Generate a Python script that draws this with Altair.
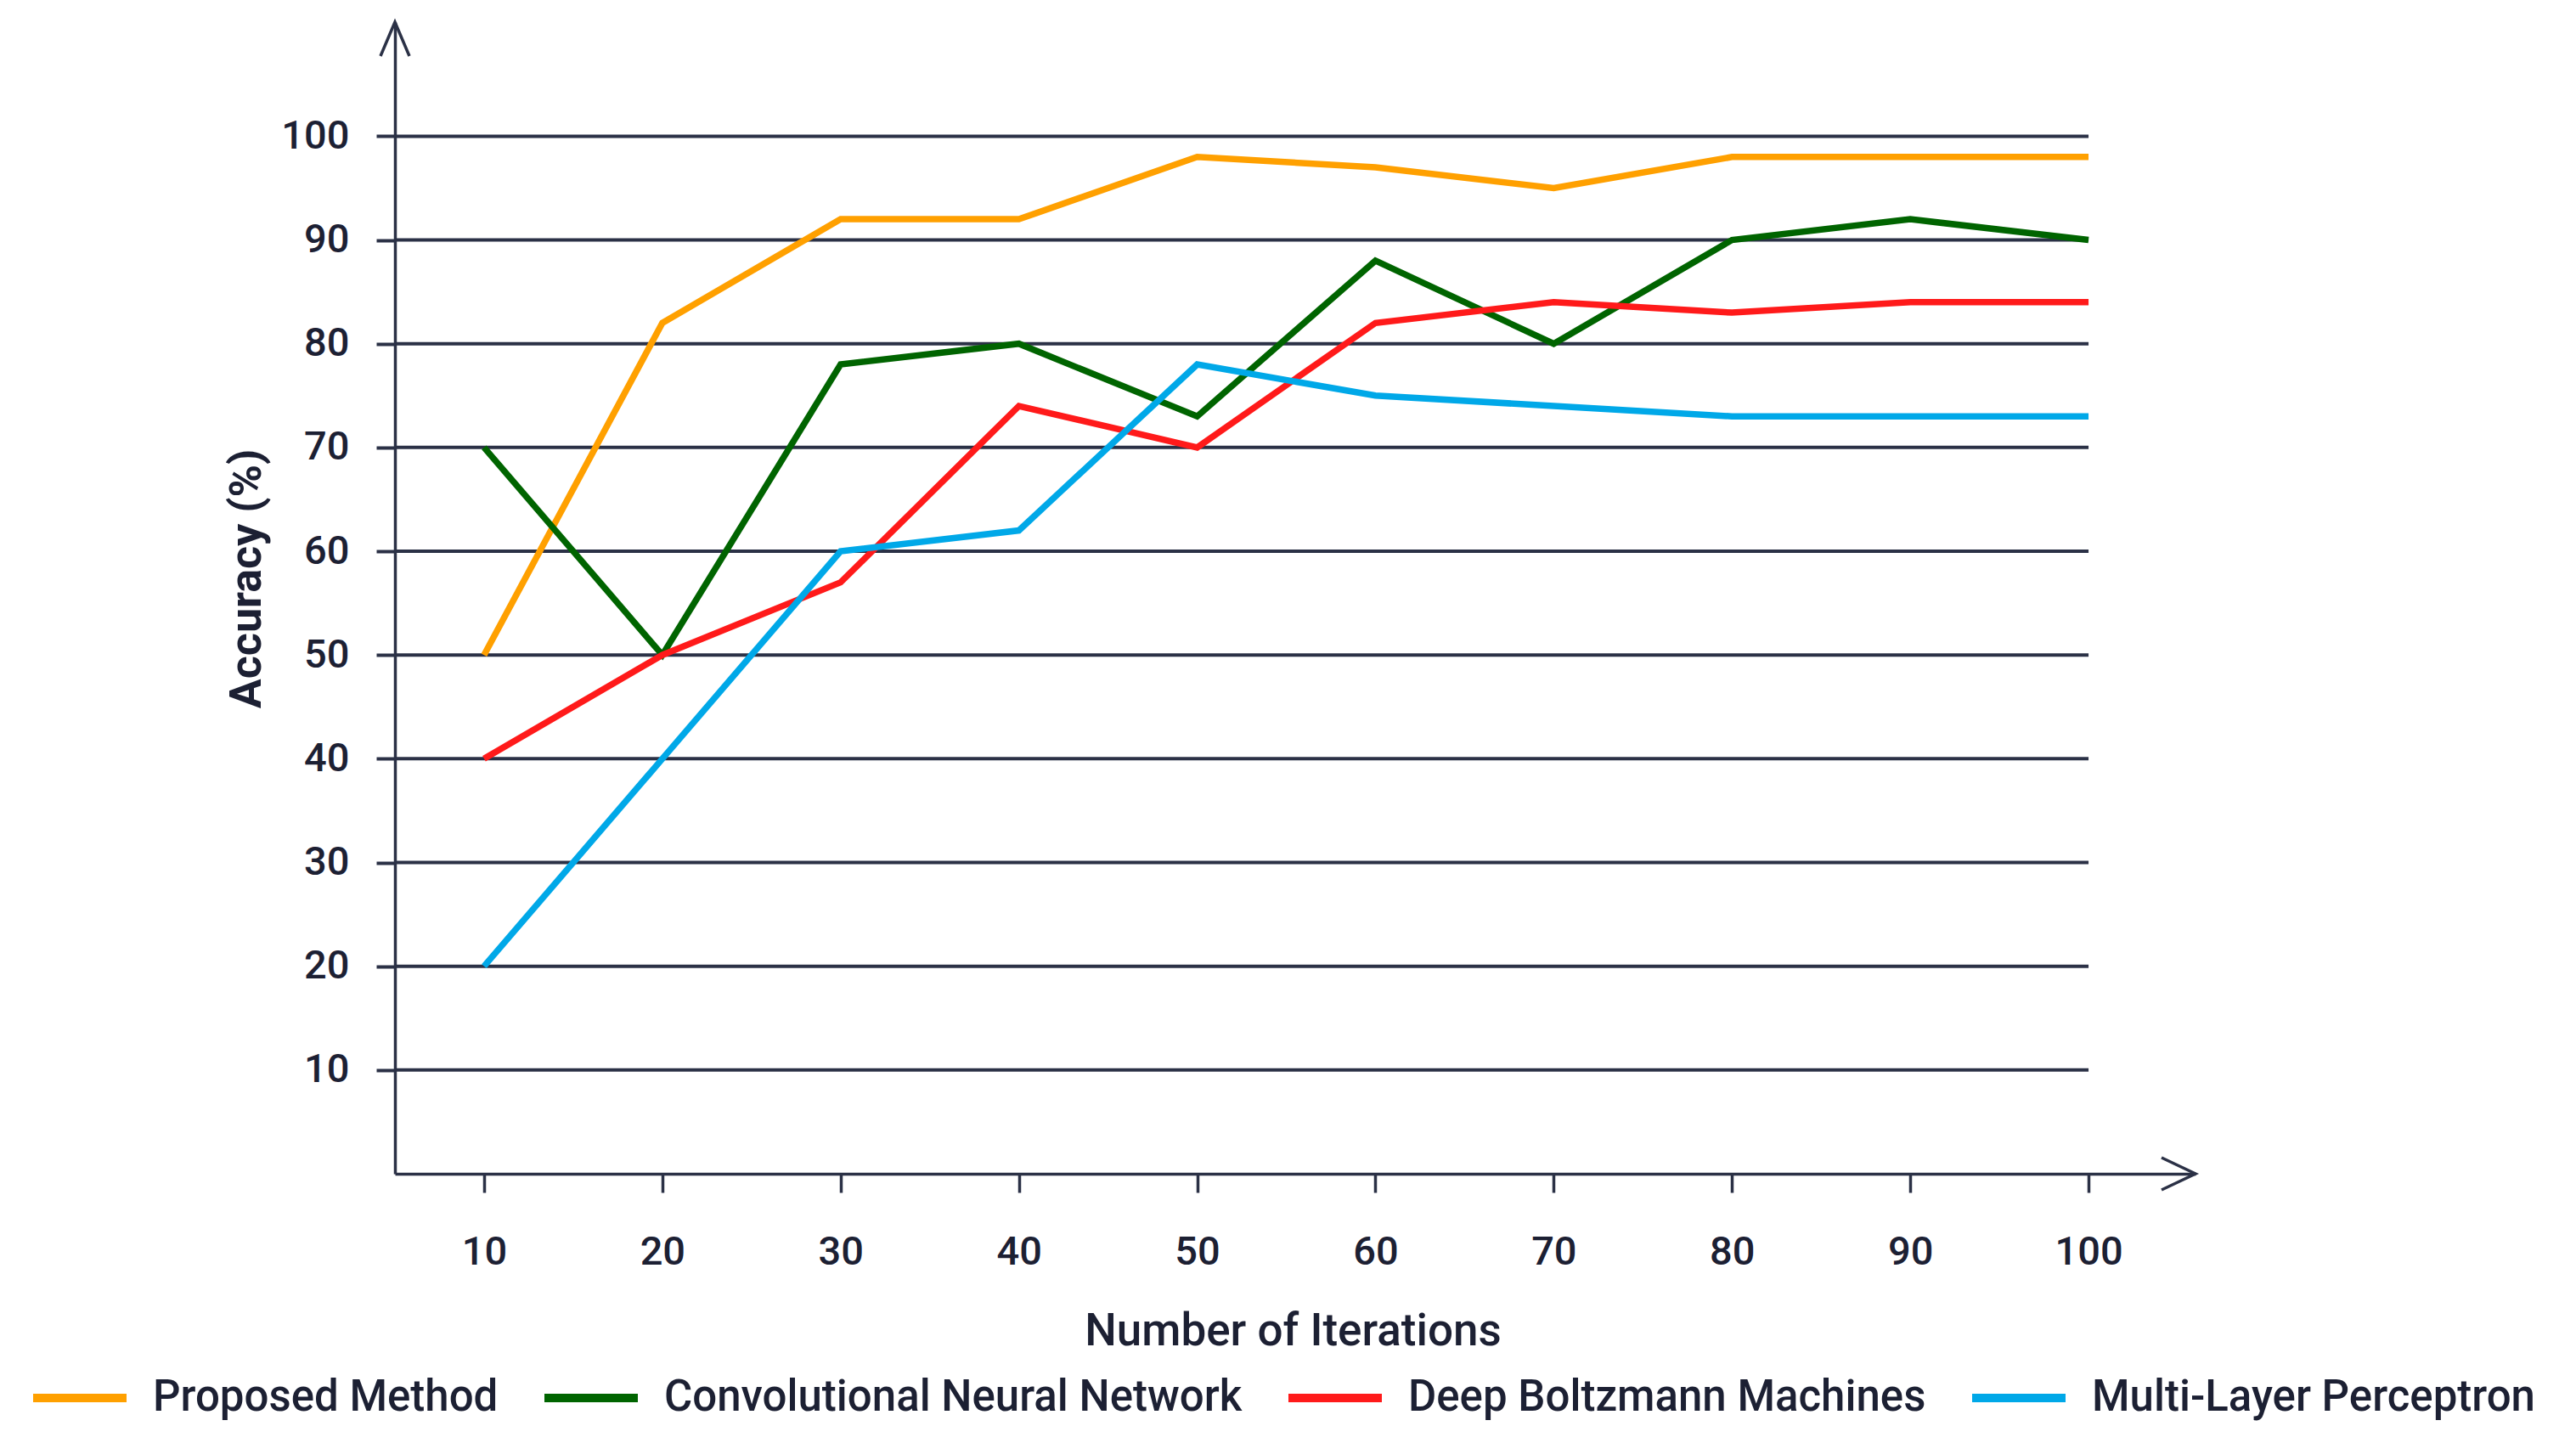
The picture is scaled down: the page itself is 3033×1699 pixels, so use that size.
import altair as alt
import pandas as pd

# ---- data ----
iterations = [10, 20, 30, 40, 50, 60, 70, 80, 90, 100]
proposed = [50, 82, 92, 92, 98, 97, 95, 98, 98, 98]
cnn = [70, 50, 78, 80, 73, 88, 80, 90, 92, 90]
dbm = [40, 50, 57, 74, 70, 82, 84, 83, 84, 84]
mlp = [20, 40, 60, 62, 78, 75, 74, 73, 73, 73]

series_names = ["Proposed Method", "Convolutional Neural Network",
                "Deep Boltzmann Machines", "Multi-Layer Perceptron"]
series_colors = ["#FFA000", "#006400", "#FF1A1A", "#00A8E8"]
y_ticks = [10, 20, 30, 40, 50, 60, 70, 80, 90, 100]
x_ticks = iterations

X_MIN, X_MAX = 5, 106
Y_MIN, Y_MAX = 0, 111
GRID_END = 100

INK = "#2B3146"
TXT = "#1C2033"
FONT = "Roboto"

rows = []
for name, vals in zip(series_names, [proposed, cnn, dbm, mlp]):
    for it, v in zip(iterations, vals):
        rows.append({"Iteration": it, "Accuracy": v, "Series": name})
df = pd.DataFrame(rows)

grid_df = pd.DataFrame({"Iteration": [X_MIN] * len(y_ticks), "Accuracy": y_ticks,
                        "gx1": [GRID_END] * len(y_ticks)})
arrow_y_df = pd.DataFrame({"Iteration": [X_MIN], "Accuracy": [Y_MAX]})
arrow_x_df = pd.DataFrame({"Iteration": [X_MAX], "Accuracy": [Y_MIN]})

xs = alt.Scale(domain=[X_MIN, X_MAX], nice=False, zero=False)
ys = alt.Scale(domain=[Y_MIN, Y_MAX], nice=False, zero=False)

X_AX = alt.Axis(
    values=x_ticks, title="Number of Iterations", grid=False,
    domainColor=INK, domainWidth=3.5, tickColor=INK, tickWidth=3.5,
    tickSize=22, labelPadding=47, labelFont=FONT, labelFontSize=47,
    labelColor=TXT, labelFontWeight=500,
    titleFont=FONT, titleFontSize=53, titleFontWeight=500, titleColor=TXT,
    titleX=1057, titleY=185, titleBaseline="middle", titleAlign="center")
Y_AX = alt.Axis(
    values=y_ticks, title="Accuracy (%)", grid=False,
    domainColor=INK, domainWidth=3.5, tickColor=INK, tickWidth=4,
    tickSize=22, labelPadding=32, labelFont=FONT, labelFontSize=47,
    labelColor=TXT, labelFontWeight=500,
    titleFont=FONT, titleFontSize=52, titleFontWeight=700, titleColor=TXT,
    titleAngle=270, titleX=-175, titleY=655, titleBaseline="middle",
    titleAlign="center")

X_ENC = alt.X("Iteration:Q", scale=xs, axis=X_AX, title="Number of Iterations")
Y_ENC = alt.Y("Accuracy:Q", scale=ys, axis=Y_AX, title="Accuracy (%)")

grid = alt.Chart(grid_df).mark_rule(color=INK, strokeWidth=4).encode(
    x=X_ENC, x2="gx1", y=Y_ENC,
)

lines = alt.Chart(df).mark_line(strokeWidth=7.5, strokeJoin="miter").encode(
    x=X_ENC,
    y=Y_ENC,
    color=alt.Color("Series:N", scale=alt.Scale(domain=series_names, range=series_colors),
                    sort=series_names,
                    legend=alt.Legend(
                        title=None, orient="none", legendX=-431, legendY=1560,
                        direction="horizontal", symbolType="stroke",
                        symbolSize=12100, symbolStrokeWidth=10,
                        labelFont=FONT, labelFontSize=51, labelFontWeight=500,
                        labelColor=TXT, labelOffset=26, columnPadding=34,
                        padding=0, labelLimit=2000)),
    detail="Series:N",
)

arrow_y = alt.Chart(arrow_y_df).mark_point(
    shape="M -0.85 2 L 0 0 L 0.85 2", size=1600, filled=False,
    stroke=INK, strokeWidth=3.5, opacity=1).encode(x=X_ENC, y=Y_ENC)
arrow_x = alt.Chart(arrow_x_df).mark_point(
    shape="M -2 -0.95 L 0 0 L -2 0.95", size=1600, filled=False,
    stroke=INK, strokeWidth=3.5, opacity=1).encode(x=X_ENC, y=Y_ENC)

chart = alt.layer(grid, lines, arrow_y, arrow_x).properties(
    width=2120, height=1356,
    autosize=alt.AutoSizeParams(type="none"),
    padding={"left": 457, "top": 18, "right": 438, "bottom": 305},
    background="white",
).configure_view(stroke=None)

chart.save("out.html", embed_options={"renderer": "svg", "actions": False})
